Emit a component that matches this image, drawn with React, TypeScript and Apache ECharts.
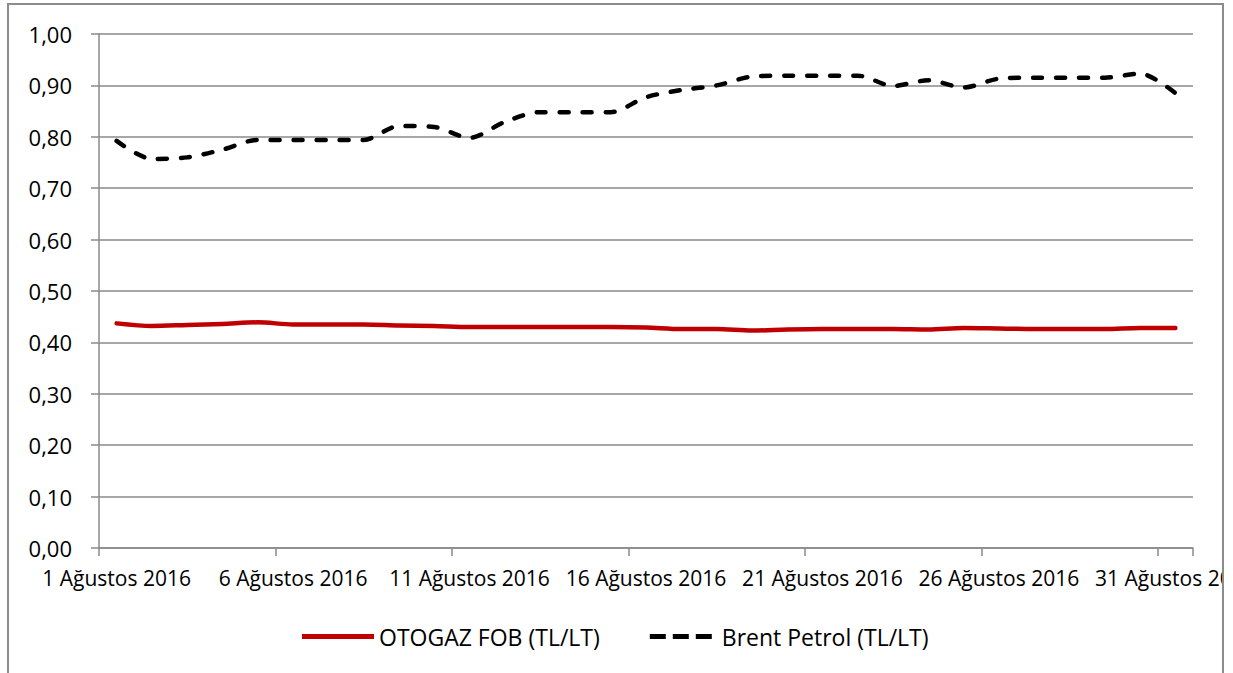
import React, { useEffect, useRef } from "react";
import * as echarts from "echarts";

const categories = [
  "1 Ağustos 2016", "2 Ağustos 2016", "3 Ağustos 2016", "4 Ağustos 2016", "5 Ağustos 2016",
  "6 Ağustos 2016", "7 Ağustos 2016", "8 Ağustos 2016", "9 Ağustos 2016", "10 Ağustos 2016",
  "11 Ağustos 2016", "12 Ağustos 2016", "13 Ağustos 2016", "14 Ağustos 2016", "15 Ağustos 2016",
  "16 Ağustos 2016", "17 Ağustos 2016", "18 Ağustos 2016", "19 Ağustos 2016", "20 Ağustos 2016",
  "21 Ağustos 2016", "22 Ağustos 2016", "23 Ağustos 2016", "24 Ağustos 2016", "25 Ağustos 2016",
  "26 Ağustos 2016", "27 Ağustos 2016", "28 Ağustos 2016", "29 Ağustos 2016", "30 Ağustos 2016",
  "31 Ağustos 2016",
];

const otogazFob = [
  0.437, 0.432, 0.434, 0.436, 0.439, 0.435, 0.435, 0.435, 0.433, 0.432,
  0.430, 0.430, 0.430, 0.430, 0.430, 0.429, 0.426, 0.426, 0.423, 0.425,
  0.426, 0.426, 0.426, 0.425, 0.428, 0.427, 0.426, 0.426, 0.426, 0.428,
  0.428,
];

const brentPetrol = [
  0.792, 0.757, 0.760, 0.775, 0.794, 0.794, 0.794, 0.794, 0.821, 0.819,
  0.798, 0.829, 0.848, 0.848, 0.848, 0.877, 0.891, 0.900, 0.917, 0.919,
  0.919, 0.919, 0.899, 0.910, 0.896, 0.913, 0.915, 0.915, 0.915, 0.923,
  0.885,
];

const seriesNames = ["OTOGAZ FOB (TL/LT)", "Brent Petrol (TL/LT)"];

const FONT = "'Open Sans', 'Noto Sans', sans-serif";

export default function App() {
  const ref = useRef<HTMLDivElement>(null);

  useEffect(() => {
    if (!ref.current) return;
    const chart = echarts.init(ref.current, null, { renderer: "svg" });
    const gridColor = "#8a8a8a";
    chart.setOption({
      animation: false,
      backgroundColor: "#ffffff",
      textStyle: { fontFamily: FONT },
      grid: {
        left: 99,
        right: 1222 - 1193,
        top: 34,
        bottom: 673 - 548,
        containLabel: false,
        outerBoundsMode: "none",
      },
      legend: {
        left: 297,
        top: 620,
        itemWidth: 72,
        itemHeight: 5,
        itemGap: 50,
        symbolKeepAspect: true,
        textStyle: { fontFamily: FONT, fontSize: 23, color: "#000" },
        data: [
          { name: seriesNames[0], icon: "path://M0,0H72V5H0Z" },
          {
            name: seriesNames[1],
            icon: "path://M0,0H16V5H0Z M23,0H39V5H23Z M46,0H62V5H46Z",
          },
        ],
      },
      xAxis: {
        type: "category",
        data: categories,
        boundaryGap: true,
        axisLine: { lineStyle: { color: gridColor, width: 1.5 } },
        axisTick: { show: true, interval: 4, length: 8, lineStyle: { color: gridColor, width: 1.5 } },
        axisLabel: {
          interval: 4,
          margin: 19,
          fontFamily: FONT,
          fontSize: 21,
          color: "#000",
        },
        splitLine: { show: false },
      },
      yAxis: {
        type: "value",
        min: 0,
        max: 1,
        interval: 0.1,
        axisLine: { show: true, lineStyle: { color: gridColor, width: 1.5 } },
        axisTick: { show: true, length: 8, lineStyle: { color: gridColor, width: 1.5 } },
        axisLabel: {
          margin: 27,
          fontFamily: FONT,
          fontSize: 22,
          color: "#000",
          formatter: (v: number) => v.toFixed(2).replace(".", ","),
        },
        splitLine: { show: true, lineStyle: { color: gridColor, width: 1.5 } },
      },
      series: [
        {
          name: seriesNames[0],
          type: "line",
          data: otogazFob,
          symbol: "none",
          smooth: 0.3,
          lineStyle: { color: "#C00000", width: 4.5, cap: "round", join: "round" },
          itemStyle: { color: "#C00000" },
        },
        {
          name: seriesNames[1],
          type: "line",
          data: brentPetrol,
          symbol: "none",
          smooth: 0.3,
          lineStyle: { color: "#000000", width: 4.5, type: [9, 14], cap: "round", join: "round" },
          itemStyle: { color: "#000000" },
        },
      ],
    });
    return () => chart.dispose();
  }, []);

  return (
    <div style={{ position: "absolute", left: 0, top: 0, width: 1233, height: 673, overflow: "hidden", background: "#fff" }}>
      <div ref={ref} style={{ position: "absolute", left: 0, top: 0, width: 1222, height: 673 }} />
      <div
        style={{
          position: "absolute",
          left: 7,
          top: 3,
          width: 1217,
          height: 720,
          boxSizing: "border-box",
          border: "2px solid #8c8c8c",
          pointerEvents: "none",
        }}
      />
    </div>
  );
}
